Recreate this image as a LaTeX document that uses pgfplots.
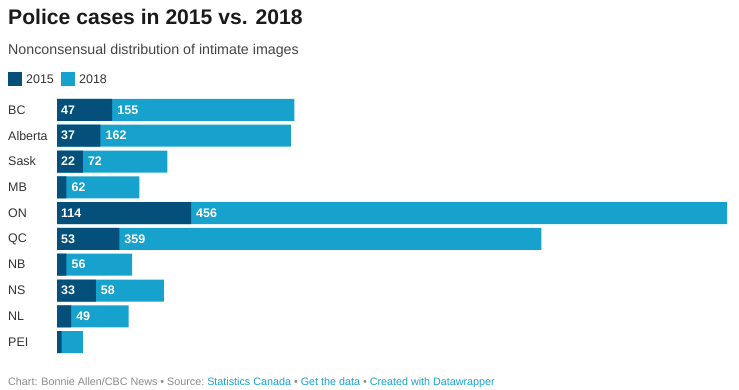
\documentclass[border=0pt]{standalone}
\usepackage{pgfplots}
\usepackage{pgfplotstable}
\pgfplotsset{compat=1.18}
\usepackage{fontspec}
\setmainfont{Liberation Sans}
\definecolor{c15}{HTML}{05507A}
\definecolor{c18}{HTML}{17A1CD}
\definecolor{titlec}{HTML}{1A1A1A}
\definecolor{subc}{HTML}{444444}
\definecolor{labc}{HTML}{333333}
\definecolor{footgray}{HTML}{8A8A8A}
\definecolor{linkc}{HTML}{18A1CD}
\pgfplotstableread{
y a b
1 47 155
2 37 162
3 22 72
4 8 62
5 114 456
6 53 359
7 8 56
8 33 58
9 12 49
10 4 18
}\data
\begin{document}
\begin{tikzpicture}
\path[use as bounding box] (0,0) rectangle (739bp,-390bp);
\node[anchor=base west, inner sep=0pt, text=titlec, font=\fontsize{21.2}{24}\selectfont\bfseries] at (8bp,-24bp) {Police cases in 2015 vs. 2018};
\node[anchor=base west, inner sep=0pt, text=subc, font=\fontsize{14.3}{16}\selectfont] at (8bp,-54bp) {Nonconsensual distribution of intimate images};
\fill[c15] (8bp,-72bp) rectangle (22bp,-86bp);
\node[anchor=base west, inner sep=0pt, text=labc, font=\fontsize{12.5}{14}\selectfont] at (26bp,-83.5bp) {2015};
\fill[c18] (61bp,-72bp) rectangle (75bp,-86bp);
\node[anchor=base west, inner sep=0pt, text=labc, font=\fontsize{12.5}{14}\selectfont] at (79bp,-83.5bp) {2018};
\begin{axis}[
  at={(57bp,-97bp)}, anchor=north west,
  scale only axis, width=670bp, height=258bp,
  xmin=0, xmax=570, ymin=0.5, ymax=10.5, y dir=reverse,
  axis line style={draw=none}, xtick=\empty, ytick={1,...,10},
  yticklabels={BC,Alberta,Sask,MB,ON,QC,NB,NS,NL,PEI},
  major tick length=0pt,
  yticklabel style={anchor=west, xshift=-49bp, inner sep=0pt, font=\fontsize{12.5}{14}\selectfont, text=labc},
  clip=false,
]
\addplot[xbar, bar shift=0pt, bar width=22bp, fill=c18, draw=none] table[x expr=\thisrow{a}+\thisrow{b}, y=y]{\data};
\addplot[xbar, bar shift=0pt, bar width=22bp, fill=c15, draw=none] table[x=a, y=y]{\data};
\addplot[only marks, mark=none, nodes near coords, point meta=explicit symbolic,
  every node near coord/.append style={anchor=west, xshift=4bp, inner sep=0pt, text=white, font=\fontsize{12.5}{14}\selectfont\bfseries}]
  coordinates {(0,1) [47] (0,2) [37] (0,3) [22] (0,5) [114] (0,6) [53] (0,8) [33]};
\addplot[only marks, mark=none, nodes near coords, point meta=explicit symbolic,
  every node near coord/.append style={anchor=west, xshift=5bp, inner sep=0pt, text=white, font=\fontsize{12.5}{14}\selectfont\bfseries}]
  coordinates {(47,1) [155] (37,2) [162] (22,3) [72] (8,4) [62] (114,5) [456] (53,6) [359] (8,7) [56] (33,8) [58] (12,9) [49]};
\end{axis}
\node[anchor=base west, inner sep=0pt, font=\fontsize{10.8}{12}\selectfont] at (8bp,-385bp) {{\color{footgray}Chart: Bonnie Allen/CBC News • Source:\ }{\color{linkc}Statistics Canada}{\color{footgray}\ •\ }{\color{linkc}Get the data}{\color{footgray}\ •\ }{\color{linkc}Created with Datawrapper}};
\end{tikzpicture}
\end{document}
